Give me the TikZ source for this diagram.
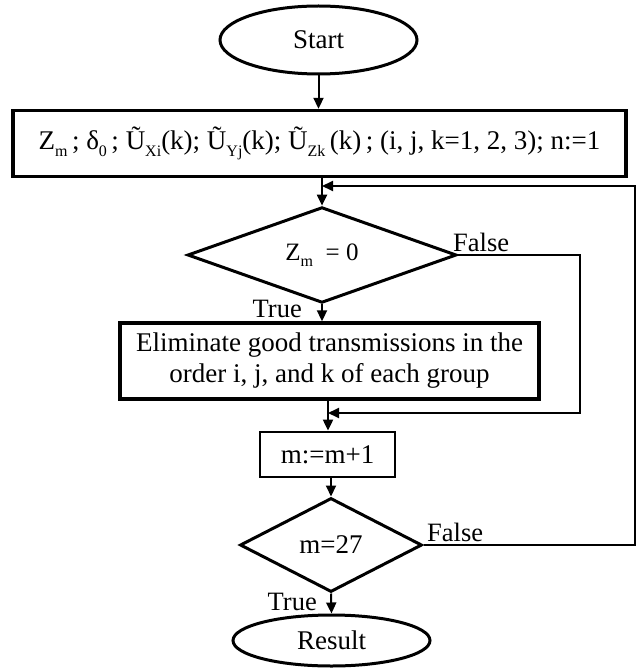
\documentclass[tikz,border=0pt]{standalone}
\usepackage{fontspec}
\setmainfont{Liberation Serif}
\usetikzlibrary{arrows.meta,shapes.geometric}
\newcommand{\sbx}[1]{\raisebox{-0.24em}{\fontsize{16}{16}\selectfont #1}}
\begin{document}
\begin{tikzpicture}[x=1pt,y=-1pt,
  every node/.style={font=\fontsize{27}{31}\selectfont, inner sep=0pt},
  term/.style={draw, ellipse, line width=3pt},
  proc/.style={draw, rectangle, line width=3.4pt},
  cond/.style={draw, diamond, line width=3pt},
  conn/.style={line width=2pt},
  arr/.style={conn, -{Triangle[length=11pt,width=10pt]}},
  lbl/.style={font=\fontsize{26.5}{30}\selectfont}]
\useasboundingbox (0,0) rectangle (638,668);
% nodes
\node[term, minimum width=197pt, minimum height=68pt] (start) at (318.5,40) {Start};
\node[proc, minimum width=613pt, minimum height=66pt] (init) at (319.5,143.5)
  {Z\sbx{m}\,; δ\sbx{0}\,; Ũ\sbx{Xi}(k); Ũ\sbx{Yj}(k); Ũ\sbx{Zk}\,(k)\,; (i, j, k=1, 2, 3); n:=1};
\node[cond, minimum width=269pt, minimum height=94pt] (d1) at (322,255)
  {\fontsize{25}{25}\selectfont Z\sbx{m}\ \ = 0};
\node[proc, minimum width=419pt, minimum height=76pt, align=center] (elim) at (329.5,361)
  {Eliminate good transmissions in the\\order i, j, and k of each group};
\node[proc, line width=2.8pt, minimum width=135pt, minimum height=45pt] (inc) at (327.5,454.5) {m:=m+1};
\node[cond, minimum width=182pt, minimum height=94pt] (d2) at (331,545) {m=27};
\node[term, minimum width=197pt, minimum height=51pt] (res) at (331.5,640.5) {Result};
% labels
\node[lbl, anchor=base west] (f1l) at (453,251) {False};
\node[lbl, anchor=base east] (t1l) at (302,317) {True};
\node[lbl, anchor=base west] (f2l) at (427,541) {False};
\node[lbl, anchor=base east] (t2l) at (317,610) {True};
% junctions
\coordinate (j1) at (322,186);
\coordinate (r1) at (635,186);
\coordinate (f1) at (580,413);
\coordinate (j2) at (328,413);
% connectors
\draw[arr] (start.south) -- (start.south |- init.north);
\draw[arr] (init.south -| d1.north) -- (d1.north);
\draw[arr] (d1.south) -- (d1.south |- elim.north);
\draw[arr] (d1.east) -| (f1) -- (j2);
\draw[arr] (elim.south -| j2) -- (inc.north -| j2);
\draw[arr] (inc.south -| d2.north) -- (d2.north);
\draw[arr] (d2.south) -- (res.north);
\draw[arr] (d2.east) -| (r1) -- (j1);
\end{tikzpicture}
\end{document}
